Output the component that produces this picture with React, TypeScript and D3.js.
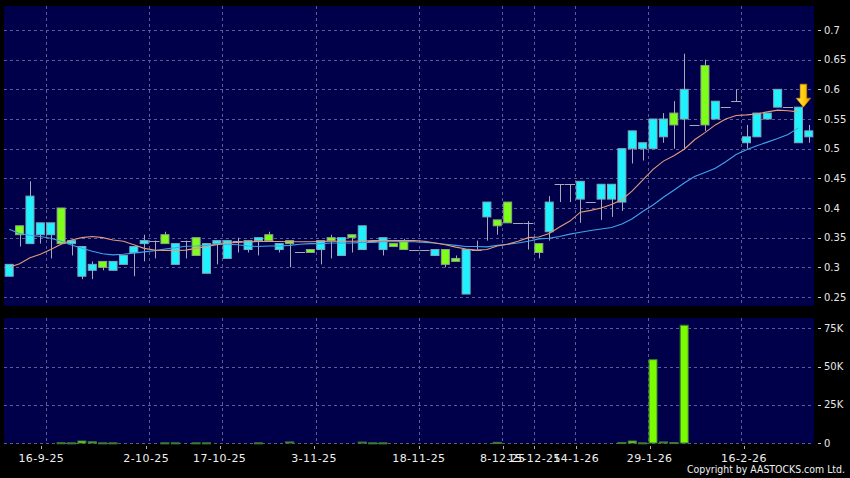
import { useEffect, useRef } from "react";
import * as d3 from "d3";

// daily candles, one per trading day (index 0 = first bar on the left)
const opens = [
  0.285, 0.37, 0.34, 0.355, 0.355, 0.4, 0.34, 0.285, 0.295, 0.31,
  0.295, 0.305, 0.325, 0.34, 0.345, 0.355, 0.305, 0.345, 0.35, 0.29,
  0.34, 0.315, 0.345, 0.33, 0.345, 0.355, 0.33, 0.345, 0.325, 0.33,
  0.33, 0.35, 0.32, 0.355, 0.33, 0.345, 0.33, 0.34, 0.345, 0.33,
  0.33, 0.32, 0.33, 0.315, 0.255, 0.33, 0.385, 0.38, 0.41, 0.375,
  0.375, 0.34, 0.36, 0.44, 0.44, 0.415, 0.41, 0.415, 0.415, 0.41,
  0.5, 0.5, 0.5, 0.52, 0.56, 0.55, 0.54, 0.64, 0.55, 0.57,
  0.58, 0.51, 0.52, 0.55, 0.57, 0.57, 0.51, 0.52,
];
const closes = [
  0.305, 0.355, 0.42, 0.375, 0.375, 0.34, 0.345, 0.335, 0.305, 0.3,
  0.31, 0.32, 0.335, 0.345, 0.345, 0.34, 0.34, 0.345, 0.32, 0.34,
  0.345, 0.345, 0.345, 0.345, 0.35, 0.345, 0.34, 0.34, 0.325, 0.325,
  0.345, 0.345, 0.35, 0.35, 0.37, 0.345, 0.35, 0.335, 0.33, 0.33,
  0.33, 0.33, 0.305, 0.31, 0.33, 0.33, 0.41, 0.37, 0.375, 0.375,
  0.375, 0.325, 0.41, 0.44, 0.44, 0.445, 0.41, 0.44, 0.44, 0.5,
  0.53, 0.51, 0.55, 0.55, 0.54, 0.6, 0.54, 0.54, 0.58, 0.57,
  0.58, 0.52, 0.56, 0.56, 0.6, 0.57, 0.57, 0.53,
];
const highs = [
  0.305, 0.37, 0.445, 0.375, 0.375, 0.4, 0.345, 0.335, 0.31, 0.31,
  0.31, 0.32, 0.335, 0.355, 0.345, 0.36, 0.34, 0.345, 0.35, 0.34,
  0.345, 0.345, 0.35, 0.345, 0.35, 0.36, 0.34, 0.345, 0.325, 0.33,
  0.345, 0.355, 0.35, 0.355, 0.37, 0.345, 0.35, 0.34, 0.348, 0.33,
  0.33, 0.33, 0.33, 0.32, 0.33, 0.345, 0.41, 0.38, 0.41, 0.375,
  0.378, 0.34, 0.42, 0.44, 0.44, 0.445, 0.41, 0.44, 0.44, 0.5,
  0.53, 0.51, 0.55, 0.56, 0.58, 0.66, 0.54, 0.65, 0.58, 0.57,
  0.6, 0.54, 0.56, 0.56, 0.6, 0.57, 0.57, 0.54,
];
const lows = [
  0.285, 0.335, 0.34, 0.34, 0.315, 0.34, 0.32, 0.28, 0.28, 0.295,
  0.295, 0.305, 0.285, 0.31, 0.315, 0.34, 0.305, 0.315, 0.32, 0.29,
  0.305, 0.315, 0.325, 0.325, 0.32, 0.345, 0.325, 0.3, 0.325, 0.325,
  0.305, 0.315, 0.32, 0.325, 0.33, 0.345, 0.32, 0.335, 0.33, 0.33,
  0.33, 0.32, 0.3, 0.31, 0.255, 0.33, 0.345, 0.355, 0.375, 0.375,
  0.33, 0.315, 0.345, 0.41, 0.41, 0.375, 0.41, 0.38, 0.385, 0.395,
  0.475, 0.48, 0.5, 0.51, 0.5, 0.5, 0.54, 0.53, 0.55, 0.57,
  0.58, 0.5, 0.52, 0.55, 0.57, 0.57, 0.51, 0.51,
];
// volume in thousands of shares
const volumes = [
  0, 0, 0, 0, 0, 0.15, 0.1, 1.3, 0.8, 0.1,
  0.1, 0, 0, 0, 0, 0.1, 0.1, 0, 0.1, 0.1,
  0, 0, 0, 0, 0.1, 0, 0, 0.7, 0, 0,
  0, 0, 0, 0, 0.6, 0.1, 0.1, 0, 0, 0,
  0, 0, 0, 0, 0, 0, 0, 0.4, 0, 0,
  0, 0, 0, 0, 0, 0, 0, 0, 0, 0.3,
  1.3, 0.1, 54.5, 0.7, 0.3, 77, 0, 0, 0, 0,
  0, 0, 0, 0, 0, 0, 0, 0,
];
// short (orange) and long (blue) moving averages as drawn
const maShort = [
  0.3, 0.306, 0.316, 0.322, 0.33, 0.339, 0.346, 0.35, 0.352, 0.35,
  0.346, 0.344, 0.338, 0.332, 0.329, 0.3285, 0.3285, 0.329, 0.332, 0.335,
  0.338, 0.341, 0.342, 0.343, 0.3435, 0.3435, 0.3435, 0.343, 0.343, 0.343,
  0.3435, 0.344, 0.344, 0.344, 0.3445, 0.345, 0.345, 0.345, 0.345, 0.345,
  0.344, 0.341, 0.338, 0.334, 0.331, 0.329, 0.33, 0.336, 0.339, 0.344,
  0.35, 0.351, 0.357, 0.368, 0.378, 0.393, 0.396, 0.4, 0.406, 0.414,
  0.429, 0.447, 0.465, 0.479, 0.488, 0.499, 0.515, 0.527, 0.54, 0.55,
  0.556, 0.557, 0.5585, 0.562, 0.565, 0.564, 0.562,
];
const maLong = [
  0.364, 0.357, 0.354, 0.352, 0.349, 0.344, 0.3375, 0.332, 0.327, 0.323,
  0.321, 0.322, 0.324, 0.326, 0.328, 0.331, 0.333, 0.3355, 0.336, 0.337,
  0.339, 0.339, 0.338, 0.336, 0.335, 0.336, 0.336, 0.337, 0.339, 0.34,
  0.34, 0.341, 0.341, 0.341, 0.342, 0.342, 0.343, 0.343, 0.3435, 0.343,
  0.342, 0.341, 0.339, 0.337, 0.335, 0.335, 0.3345, 0.337, 0.339, 0.341,
  0.344, 0.348, 0.349, 0.352, 0.356, 0.359, 0.362, 0.3645, 0.367, 0.373,
  0.382, 0.394, 0.405, 0.418, 0.43, 0.442, 0.453, 0.46, 0.467, 0.478,
  0.49, 0.498, 0.505, 0.511, 0.517, 0.524, 0.535,
];
const tickIndex = [4, 14, 21, 30, 40, 48, 51, 55, 62, 71];
const tickLabels = [
  "16-9-25", "2-10-25", "17-10-25", "3-11-25", "18-11-25",
  "8-12-25", "15-12-25", "14-1-26", "29-1-26", "16-2-26",
];
const priceTicks = [0.25, 0.3, 0.35, 0.4, 0.45, 0.5, 0.55, 0.6, 0.65, 0.7];
const volumeTicks = [0, 25, 50, 75];
const arrowIndex = 76;

const W = 850;
const H = 478;
const FONT = "DejaVu Sans, Verdana, sans-serif";

export default function App() {
  const svgRef = useRef<SVGSVGElement | null>(null);

  useEffect(() => {
    const svg = d3.select(svgRef.current).attr("width", W).attr("height", H);
    svg.selectAll("*").remove();

    const left = 4;
    const right = 814;
    const main = { top: 6, bottom: 306 };
    const vol = { top: 318, bottom: 443 };

    const idx = opens.map((_, i) => i);
    const x = d3.scaleBand<number>().domain(idx).range([left, right]);
    const cx = (i: number) => x(i)! + x.bandwidth() / 2;
    // date labels sit on a slightly wider scale than the bars
    const lx = d3.scaleLinear().domain([0, opens.length]).range([-0.6, 817.4]);

    const y = d3.scaleLinear().domain([0.25, 0.7]).range([297, 30]);
    const vy = d3.scaleLinear().domain([0, 75]).range([vol.bottom, 328.3]);

    svg.append("rect").attr("width", W).attr("height", H).attr("fill", "#000");

    const defs = svg.append("defs");
    const grad = defs
      .append("linearGradient")
      .attr("id", "arrowGrad")
      .attr("x1", "0").attr("x2", "1").attr("y1", "0").attr("y2", "0");
    grad.append("stop").attr("offset", "0%").attr("stop-color", "#ffe45a");
    grad.append("stop").attr("offset", "60%").attr("stop-color", "#ffc800");
    grad.append("stop").attr("offset", "100%").attr("stop-color", "#e09000");

    // panels
    svg.append("rect")
      .attr("x", left).attr("y", main.top)
      .attr("width", right - left).attr("height", main.bottom - main.top)
      .attr("fill", "#00004a");
    svg.append("rect")
      .attr("x", left).attr("y", vol.top)
      .attr("width", right - left).attr("height", vol.bottom - vol.top)
      .attr("fill", "#00004a");

    const gridColor = "#5c5c94";
    const grid = svg.append("g")
      .attr("stroke", gridColor)
      .attr("stroke-width", 1)
      .attr("stroke-dasharray", "3,3");

    priceTicks.forEach((t) => {
      grid.append("line")
        .attr("x1", left).attr("x2", right)
        .attr("y1", Math.round(y(t)) + 0.5).attr("y2", Math.round(y(t)) + 0.5);
    });
    volumeTicks.forEach((t) => {
      grid.append("line")
        .attr("x1", left).attr("x2", right)
        .attr("y1", Math.round(vy(t)) + 0.5).attr("y2", Math.round(vy(t)) + 0.5);
    });
    tickIndex.forEach((i) => {
      const gx = Math.round(x(i)!) + 0.5;
      grid.append("line").attr("x1", gx).attr("x2", gx).attr("y1", main.top).attr("y2", main.bottom);
      grid.append("line").attr("x1", gx).attr("x2", gx).attr("y1", vol.top).attr("y2", vol.bottom);
    });

    // right axis labels
    const axisG = svg.append("g").attr("font-family", FONT).attr("font-size", 10).attr("fill", "#e6e6e6");
    const drawRight = (ty: number, label: string) => {
      axisG.append("line")
        .attr("x1", 818).attr("x2", 821)
        .attr("y1", Math.round(ty) + 0.5).attr("y2", Math.round(ty) + 0.5)
        .attr("stroke", "#d0d0d0");
      axisG.append("text").attr("x", 824).attr("y", ty).attr("dy", "0.36em").text(label);
    };
    priceTicks.forEach((t) => drawRight(y(t), String(t)));
    volumeTicks.forEach((t) => drawRight(vy(t), t === 0 ? "0" : `${t}K`));

    // date labels
    const dateG = svg.append("g")
      .attr("font-family", FONT).attr("font-size", 11)
      .attr("letter-spacing", 0.4).attr("fill", "#f0f0f0")
      .attr("text-anchor", "middle");
    tickIndex.forEach((i, k) => {
      const tx = lx(i);
      dateG.append("line")
        .attr("x1", Math.round(tx) + 0.5).attr("x2", Math.round(tx) + 0.5)
        .attr("y1", 446).attr("y2", 449)
        .attr("stroke", "#b0b0b0");
      dateG.append("text").attr("x", tx).attr("y", 462).text(tickLabels[k]);
    });

    // volume bars
    svg.append("g")
      .selectAll("rect")
      .data(idx.filter((i) => volumes[i] > 0))
      .join("rect")
      .attr("x", (i) => cx(i) - 4)
      .attr("y", (i) => vy(volumes[i]))
      .attr("width", 8)
      .attr("height", (i) => Math.max(vy(0) - vy(volumes[i]), 1))
      .attr("fill", "#7cfc00")
      .attr("stroke", "#3d7a30")
      .attr("stroke-width", 1);

    // wicks
    svg.append("g")
      .selectAll("line")
      .data(idx.filter((i) => highs[i] > lows[i]))
      .join("line")
      .attr("x1", (i) => Math.round(cx(i)) + 0.5)
      .attr("x2", (i) => Math.round(cx(i)) + 0.5)
      .attr("y1", (i) => y(highs[i]))
      .attr("y2", (i) => y(lows[i]))
      .attr("stroke", "#a8a8b8")
      .attr("stroke-width", 1);

    // flat candles
    svg.append("g")
      .selectAll("line")
      .data(idx.filter((i) => opens[i] === closes[i]))
      .join("line")
      .attr("x1", (i) => cx(i) - 5)
      .attr("x2", (i) => cx(i) + 5)
      .attr("y1", (i) => Math.round(y(closes[i])) + 0.5)
      .attr("y2", (i) => Math.round(y(closes[i])) + 0.5)
      .attr("stroke", "#a8a8b8")
      .attr("stroke-width", 1);

    // candle bodies
    svg.append("g")
      .selectAll("rect")
      .data(idx.filter((i) => opens[i] !== closes[i]))
      .join("rect")
      .attr("x", (i) => cx(i) - 4)
      .attr("y", (i) => y(Math.max(opens[i], closes[i])))
      .attr("width", 8)
      .attr("height", (i) => Math.abs(y(opens[i]) - y(closes[i])))
      .attr("fill", (i) => (closes[i] > opens[i] ? "#1ef2ff" : "#7dff1a"))
      .attr("stroke", (i) => (closes[i] > opens[i] ? "#7fa9b9" : "#8ea684"))
      .attr("stroke-width", 1);

    // moving averages
    const line = d3.line<number>().x((_, i) => cx(i)).y((d) => y(d));
    svg.append("path")
      .datum(maLong)
      .attr("d", line)
      .attr("fill", "none")
      .attr("stroke", "#3ea4e8")
      .attr("stroke-width", 1.1);
    svg.append("path")
      .datum(maShort)
      .attr("d", line)
      .attr("fill", "none")
      .attr("stroke", "#e39a78")
      .attr("stroke-width", 1.1);

    // marker arrow above the latest highlighted bar
    const ax = cx(arrowIndex) + 5;
    const ay = y(highs[arrowIndex]);
    const arrow = d3.path();
    arrow.moveTo(ax - 3.3, ay - 23);
    arrow.lineTo(ax + 3.3, ay - 23);
    arrow.lineTo(ax + 3.3, ay - 9);
    arrow.lineTo(ax + 7.3, ay - 9);
    arrow.lineTo(ax, ay);
    arrow.lineTo(ax - 7.3, ay - 9);
    arrow.lineTo(ax - 3.3, ay - 9);
    arrow.closePath();
    svg.append("path")
      .attr("d", arrow.toString())
      .attr("fill", "url(#arrowGrad)")
      .attr("stroke", "#c88a00")
      .attr("stroke-width", 0.6);

    svg.append("text")
      .attr("x", 845).attr("y", 473)
      .attr("text-anchor", "end")
      .attr("font-family", FONT).attr("font-size", 10.5)
      .attr("fill", "#f0f0f0")
      .attr("textLength", 158)
      .attr("lengthAdjust", "spacingAndGlyphs")
      .text("Copyright by AASTOCKS.com Ltd.");
  }, []);

  return (
    <svg
      ref={svgRef}
      style={{ position: "absolute", left: 0, top: 0, display: "block" }}
    />
  );
}
